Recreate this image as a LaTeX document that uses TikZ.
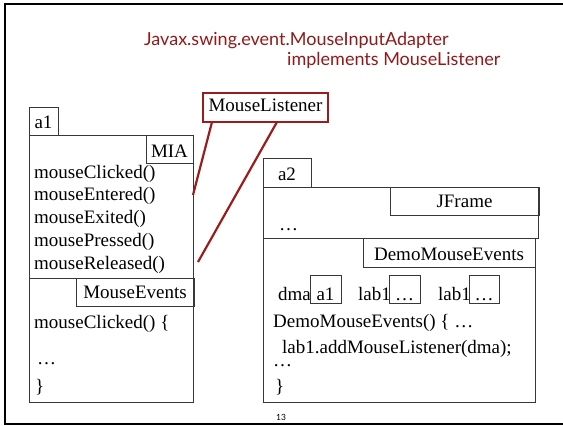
\documentclass[tikz,border=0pt]{standalone}
\usepackage{fontspec}
\setmainfont{Liberation Serif}
\newfontfamily\titlefont{Lato}
\definecolor{dred}{RGB}{155,28,28}
\definecolor{ttl}{RGB}{145,25,25}
\definecolor{boxc}{RGB}{55,55,55}
\begin{document}
\begin{tikzpicture}[x=1pt,y=-1pt,
  every node/.style={font=\fontsize{19}{22}\selectfont, inner sep=0pt},
  box/.style={draw=boxc, line width=0.9pt, inner sep=0pt, anchor=base},
  txt/.style={anchor=base west, inner sep=0pt},
  frame/.style={draw=boxc, line width=0.9pt},
  ttlfont/.style={font=\titlefont\fontsize{18}{20}\selectfont, text=ttl, anchor=base west},
  redline/.style={draw=dred, line width=2.2pt}]
\useasboundingbox (0,0) rectangle (563,426);
% outer frame
\draw[line width=2.5pt, black] (570,4) -- (5,4) -- (5,424) -- (570,424);
% title
\node[ttlfont] (t1) at (144,45) {Javax.swing.event.MouseInputAdapter};
\node[ttlfont] (t2) at (287,65) {implements MouseListener};
% left object a1
\draw[frame] (29,135) rectangle (193,278);
\draw[frame] (29,278) rectangle (193,402);
\node[box, minimum width=29pt, text height=21pt, text depth=7pt] (a1tab) at (43.5,128) {a1};
\node[box, minimum width=47pt, text height=22pt, text depth=6pt] (mia) at (169.5,157) {MIA};
\node[txt] (m1) at (34,178) {mouseClicked()};
\node[txt] (m2) at (34,200.75) {mouseEntered()};
\node[txt] (m3) at (34,223.5) {mouseExited()};
\node[txt] (m4) at (34,246.25) {mousePressed()};
\node[txt] (m5) at (34,269) {mouseReleased()};
\node[box, minimum width=118pt, text height=20pt, text depth=8pt] (me) at (135,298) {MouseEvents};
\node[txt] (mc) at (34,328) {mouseClicked() \{};
\node[txt] (d1) at (37,364) {…};
\node[txt] (b1) at (35,392) {\}};
% MouseListener callout
\node[box, draw=dred, line width=2pt, minimum width=125pt, text height=18pt, text depth=11pt] (ml) at (265.5,111) {MouseListener};
\coordinate (s1) at (212,122);
\coordinate (s2) at (277,122);
\coordinate (e1) at (193,195);
\coordinate (e2) at (198,262);
\draw[redline] (s1) -- (e1);
\draw[redline] (s2) -- (e2);
% right object a2
\draw[frame] (263,187) rectangle (538,238);
\draw[frame] (263,238) rectangle (535,402);
\node[box, minimum width=48pt, text height=22pt, text depth=7pt] (a2tab) at (287,180) {a2};
\node[box, minimum width=149pt, text height=20pt, text depth=8pt] (jf) at (464.5,207) {JFrame};
\node[txt] (d2) at (279,230) {…};
\node[box, minimum width=172pt, text height=22pt, text depth=7pt] (dme) at (449,260) {DemoMouseEvents};
\node[txt] (dma) at (278,300) {dma};
\node[box, minimum width=31pt, text height=25pt, text depth=3pt] (va1) at (325.5,300) {a1};
\node[txt] (lab1a) at (358,300) {lab1};
\node[box, minimum width=31pt, text height=25pt, text depth=3pt] (v1) at (404.5,300) {…};
\node[txt] (lab1b) at (438,300) {lab1};
\node[box, minimum width=30pt, text height=25pt, text depth=3pt] (v2) at (484,300) {…};
\node[txt] (ctor) at (273,327) {DemoMouseEvents() \{ …};
\node[txt] (add) at (282,353) {lab1.addMouseListener(dma);};
\node[txt] (d3) at (273,366) {…};
\node[txt] (b2) at (275,392) {\}};
% page number
\node[anchor=base, font=\titlefont\fontsize{8.5}{10}\selectfont] (pg) at (281,420) {13};
\end{tikzpicture}
\end{document}
